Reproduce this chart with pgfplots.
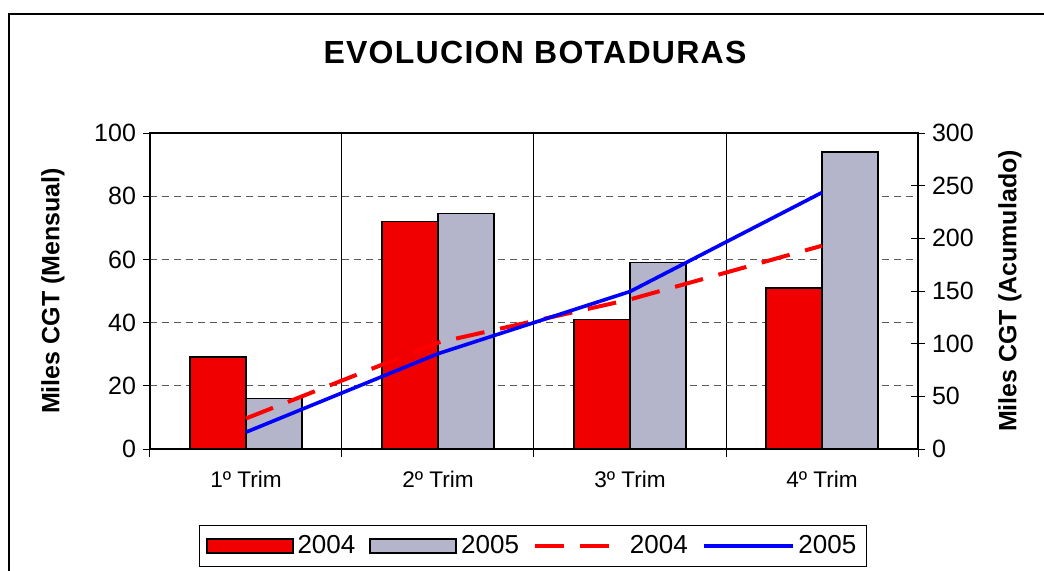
\documentclass[border=0pt]{standalone}
\usepackage{fontspec}
\setmainfont{Liberation Sans}
\newfontfamily\titlefont{Liberation Sans}[LetterSpace=4]
\usepackage{pgfplots}
\pgfplotsset{compat=1.18}
\definecolor{bar04}{RGB}{240,0,0}
\definecolor{bar05}{RGB}{180,180,202}
\definecolor{gridgray}{RGB}{90,90,90}
\pgfplotsset{
    barlegend/.style={legend image code/.code={\draw[##1] (0pt,-3.5pt) rectangle (43pt,3.5pt);}},
    linelegend/.style={legend image code/.code={\draw[##1] (0pt,0pt) -- (44.5pt,0pt);}},
}

\begin{document}
\begin{tikzpicture}
\useasboundingbox (-75pt,-60.5pt) rectangle (447pt,224.5pt);
% bars, left axis
\begin{axis}[
    at={(0pt,0pt)}, anchor=south west,
    width=384pt, height=158pt, scale only axis,
    xmin=-0.5, xmax=3.5, ymin=0, ymax=100,
    xtick={0,1,2,3},
    xticklabels={1º Trim,2º Trim,3º Trim,4º Trim},
    minor xtick={-0.5,0.5,1.5,2.5,3.5},
    ytick={0,20,...,100},
    xtick pos=left, ytick pos=left,
    tick align=outside,
    major tick length=3.5pt, minor tick length=4pt,
    tick style={black, line width=0.5pt},
    major x tick style={draw=none},
    xminorgrids=true, ymajorgrids=true,
    minor grid style={black, line width=0.5pt, solid},
    major grid style={gridgray, line width=0.5pt, dash pattern=on 3.5pt off 2.5pt},
    axis line style={black, line width=0.8pt},
    /pgf/number format/assume math mode=true,
    yticklabel style={font=\fontsize{12.5}{15}\selectfont},
    xticklabel style={font=\fontsize{11.3}{13}\selectfont, yshift=-4pt},
    ylabel={\bfseries Miles CGT (Mensual)},
    ylabel style={at={(axis description cs:-0.1263,0.5)}, anchor=center, font=\fontsize{12.5}{15}\selectfont},
    title={\titlefont\bfseries EVOLUCION BOTADURAS},
    title style={at={(axis description cs:0.5013,1.218)}, anchor=center, font=\fontsize{16}{19}\selectfont},
    legend style={at={(axis description cs:0.4987,-0.307)}, anchor=center,
        legend columns=4, draw=black, line width=0.5pt,
        font=\fontsize{13}{15}\selectfont,
        inner xsep=3pt, inner ysep=3pt,
        /tikz/every even column/.append style={column sep=5pt}},
]
\addplot[ybar, bar width=28pt, bar shift=-14pt, fill=bar04, draw=black, line width=0.9pt, barlegend]
    coordinates {(0,29) (1,72) (2,41) (3,51)};
\addlegendentry{2004}
\addplot[ybar, bar width=28pt, bar shift=14pt, fill=bar05, draw=black, line width=0.9pt, barlegend]
    coordinates {(0,16) (1,74.5) (2,59) (3,94)};
\addlegendentry{2005}
\addlegendimage{red, line width=2pt, dash pattern=on 14.5pt off 8pt, linelegend}
\addlegendentry{2004}
\addlegendimage{blue, line width=1.8pt, linelegend}
\addlegendentry{2005}
\end{axis}
% cumulative lines, right axis
\begin{axis}[
    at={(0pt,0pt)}, anchor=south west,
    width=384pt, height=158pt, scale only axis,
    xmin=-0.5, xmax=3.5, ymin=0, ymax=300,
    axis x line=none, axis y line*=right,
    axis line style={-, black, line width=0.8pt},
    ytick={0,50,...,300},
    tick align=center, major tick length=7pt,
    tick style={black, line width=0.5pt},
    /pgf/number format/assume math mode=true,
    yticklabel style={font=\fontsize{12.5}{15}\selectfont},
    ylabel={\bfseries Miles CGT (Acumulado)},
    ylabel style={at={(axis description cs:1.1198,0.5)}, anchor=center, font=\fontsize{12.5}{15}\selectfont},
]
\addplot[red, line width=2pt, dash pattern=on 14.5pt off 8pt]
    coordinates {(0,29) (1,101) (2,142) (3,193)};
\addplot[blue, line width=1.8pt]
    coordinates {(0,16) (1,90.5) (2,149.5) (3,243.5)};
\end{axis}
\draw[black, line width=0.8pt] (-70.5pt,-80pt) -- (-70.5pt,217.5pt) -- (470pt,217.5pt);
\end{tikzpicture}
\end{document}
